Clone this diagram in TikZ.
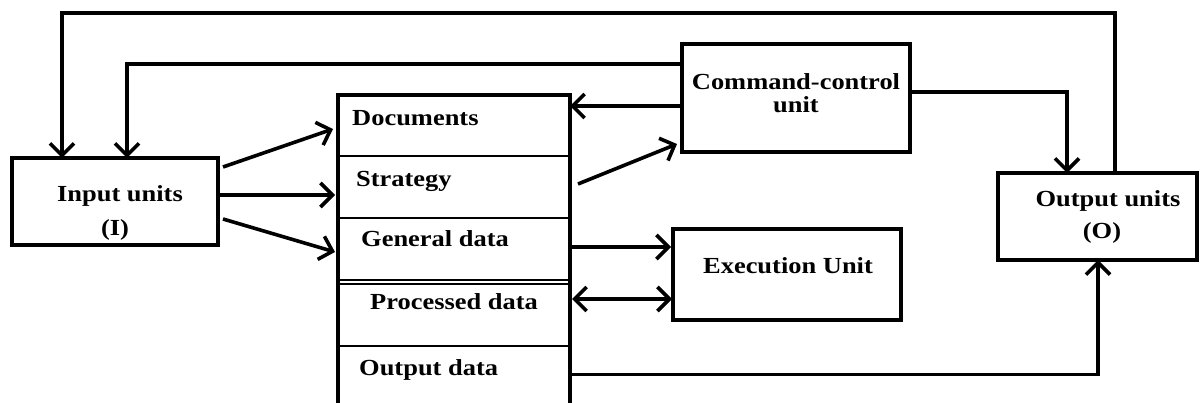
\documentclass[tikz,border=0pt]{standalone}
\usepackage{fontspec}
\setmainfont{Liberation Serif}[FakeStretch=1.15]
\usetikzlibrary{arrows.meta}
\begin{document}
\begin{tikzpicture}[x=1pt,y=-1pt,
  box/.style={draw, line width=3.8pt, inner sep=0pt, outer sep=0pt},
  cell/.style={inner sep=0pt, outer sep=0pt, minimum width=232pt, anchor=north west},
  lbl/.style={inner sep=0pt, font=\fontsize{23}{28}\selectfont\bfseries},
  link/.style={line width=3.6pt, -{Straight Barb[length=12pt,width=24pt]}},
  both/.style={line width=3.6pt, {Straight Barb[length=12pt,width=24pt]}-{Straight Barb[length=12pt,width=24pt]}},
  frame/.style={line width=3.8pt},
  rule/.style={line width=1.4pt},
]
\fill[white] (0,0) rectangle (1200,403);
\useasboundingbox (0,0) rectangle (1200,403);

% level of the outer feedback line
\coordinate (topY) at (0,13);

% outer boxes
\node[box, minimum width=206pt, minimum height=87pt] (inbox) at (115,201.5) {};
\node[box, minimum width=228pt, minimum height=108pt] (cmd) at (796,98) {};
\node[box, minimum width=228pt, minimum height=91pt] (exec) at (787,274.5) {};
\node[box, minimum width=199pt, minimum height=87pt] (outbox) at (1097.5,216.5) {};

% the data table, one cell per section
\node[cell, minimum height=61pt] (doc) at (338,95) {};
\node[cell, minimum height=62pt] (strat) at (338,156) {};
\node[cell, minimum height=64pt] (gen) at (338,218) {};
\node[cell, minimum height=64pt] (proc) at (338,282) {};
\node[cell, minimum height=57pt] (outd) at (338,346) {};

\draw[frame] (outd.south west) -- (doc.north west) -- (doc.north east) -- (outd.south east);
\draw[rule] (doc.south west) -- (doc.south east);
\draw[rule] (strat.south west) -- (strat.south east);
\draw[rule] ([yshift=2pt]gen.south west) -- ([yshift=2pt]gen.south east);
\draw[rule] ([yshift=-2pt]gen.south west) -- ([yshift=-2pt]gen.south east);
\draw[rule] (proc.south west) -- (proc.south east);

% texts
\node[lbl, anchor=base] (tin1) at (120,202) {Input units};
\node[lbl, anchor=base] (tin2) at (115,236) {(I)};
\node[lbl, anchor=base] (tcmd1) at (796,90) {Command-control};
\node[lbl, anchor=base] (tcmd2) at (796,113) {unit};
\node[lbl, anchor=base] (texec) at (788,274) {Execution Unit};
\node[lbl, anchor=base] (tout1) at (1108,207) {Output units};
\node[lbl, anchor=base] (tout2) at (1102,239) {(O)};
\node[lbl, anchor=base west] (tdoc) at (352,126) {Documents};
\node[lbl, anchor=base west] (tstrat) at (356,187) {Strategy};
\node[lbl, anchor=base west] (tgen) at (361,247) {General data};
\node[lbl, anchor=base west] (tproc) at (370,310) {Processed data};
\node[lbl, anchor=base west] (toutd) at (359,376) {Output data};

% connector end points
\coordinate (o1) at ([xshift=17.5pt]outbox.north);
\coordinate (i1) at ([xshift=-53pt]inbox.north);
\coordinate (c1) at ([yshift=34pt]cmd.west);
\coordinate (i2) at ([xshift=12pt]inbox.north);
\coordinate (c2) at ([xshift=-2pt,yshift=-8pt]cmd.west);
\coordinate (c3) at ([yshift=6pt]cmd.east);
\coordinate (o2) at ([xshift=-30.5pt]outbox.north);
\coordinate (e1) at ([xshift=-2pt,yshift=27.5pt]exec.west);
\coordinate (e2) at ([xshift=-1pt,yshift=-24.5pt]exec.west);

% feedback lines to the input units
\draw[link] (o1) |- (i1 |- topY) -- (i1);
\draw[link] (c1) -| (i2);

% input units to the table
\draw[link] ([xshift=5pt,yshift=34.5pt]inbox.east) -- ([xshift=-5pt,yshift=-3.5pt]doc.west);
\draw[link] ([yshift=6.5pt]inbox.east) -- ([xshift=-3pt,yshift=-8pt]strat.west);
\draw[link] ([xshift=5pt,yshift=-17.5pt]inbox.east) -- ([xshift=-3pt,yshift=-2pt]gen.west);

% command-control unit
\draw[link] (c2) -- (doc.east |- c2);
\draw[link] ([xshift=8pt,yshift=3pt]strat.east) -- ([xshift=-5pt,yshift=8pt]cmd.south west);
\draw[link] (c3) -| (o2);

% execution unit
\draw[link] (gen.east |- e1) -- (e1);
\draw[both] ([xshift=2pt]proc.east |- e2) -- (e2);

% output data to the output units
\draw[link] (outd.east) -| ([xshift=0.5pt]outbox.south);
\end{tikzpicture}
\end{document}
